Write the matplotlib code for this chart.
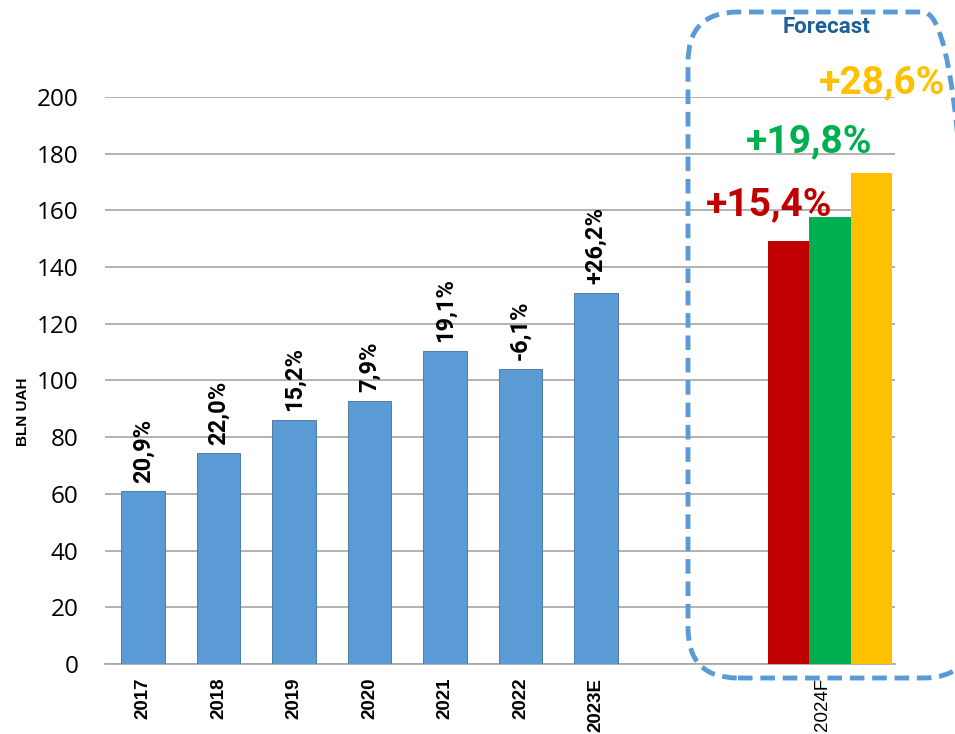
import matplotlib.pyplot as plt
from matplotlib.patches import FancyBboxPatch
import numpy as np

# data
years = ["2017", "2018", "2019", "2020", "2021", "2022", "2023E"]
values = [61.0, 74.4, 86.1, 92.8, 110.4, 104.1, 130.9]
growth = ["20,9%", "22,0%", "15,2%", "7,9%", "19,1%", "-6,1%", "+26,2%"]

forecast_label = "2024F"
forecast_values = [149.2, 157.7, 173.2]
forecast_growth = ["+15,4%", "+19,8%", "+28,6%"]
forecast_colors = ["#C00000", "#00B050", "#FFC000"]

blue = "#5B9BD5"

fig = plt.figure(figsize=(9.55, 7.34), dpi=100)
ax = fig.add_axes([0.110, 0.0954, 0.827, 0.7725])

x = np.arange(len(years))
ax.bar(x, values, width=0.58, color=blue, edgecolor="#41719C", linewidth=0.6, zorder=3)
for xi, v, g in zip(x, values, growth):
    ax.text(xi, v + 3, g, rotation=90, ha="center", va="bottom",
            fontsize=17, fontweight="bold", color="black", family="Roboto")

# forecast group
fx = 9.1
offs = [-0.55, 0.0, 0.55]
for o, v, c in zip(offs, forecast_values, forecast_colors):
    ax.bar(fx + o, v, width=0.55, color=c, zorder=3)

# label spots (x, y) in data units
lab_pos = [(8.30, 161.9), (8.83, 184.1), (9.79, 204.9)]
for (lx, ly), txt, c in zip(lab_pos, forecast_growth, forecast_colors):
    ax.text(lx, ly, txt, color=c, fontsize=28, fontweight="bold", family="Roboto",
            ha="center", va="center", clip_on=False, zorder=5)

ax.set_xlim(-0.503, 9.96)
ax.set_ylim(0, 200)
ax.set_yticks(np.arange(0, 201, 20))
ax.tick_params(axis="y", length=0, pad=19)
for lbl in ax.get_yticklabels():
    lbl.set_fontsize(17.5)
    lbl.set_family("Open Sans")
ax.set_xticks(list(x) + [9.0])
ax.set_xticklabels(years + [forecast_label], rotation=90, fontsize=13.5,
                   family="Liberation Sans")
for lbl in ax.get_xticklabels()[:-1]:
    lbl.set_fontweight("bold")
ax.tick_params(axis="x", length=0, pad=10)
ax.grid(axis="y", color="#A6A6A6", linewidth=1.2, zorder=0)
for s in ["left", "right", "top"]:
    ax.spines[s].set_visible(False)
ax.spines["bottom"].set_color("#A6A6A6")
ax.spines["bottom"].set_linewidth(1.2)
ax.set_ylabel("BLN UAH", fontsize=11, fontweight="bold", family="Liberation Sans")
ax.yaxis.set_label_coords(-0.095, 0.445)

# dashed rounded box around the forecast (inches so the corners stay round)
box = FancyBboxPatch((6.88, 0.56), 2.85, 6.66,
                     boxstyle="round,pad=0,rounding_size=0.5",
                     transform=fig.dpi_scale_trans, fill=False, edgecolor=blue,
                     linewidth=3.5, linestyle=(0, (3, 1.6)), clip_on=False)
fig.patches.append(box)
fig.text(826 / 955, 1 - 27 / 734, "Forecast", ha="center", va="center",
         fontsize=16, fontweight="bold", color="#1F5F99", family="Roboto")

fig.savefig("out.png", dpi=100)
